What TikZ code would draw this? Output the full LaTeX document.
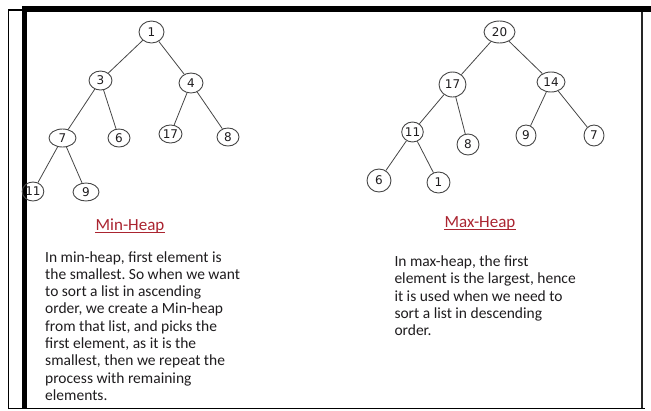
\documentclass[tikz,border=0pt]{standalone}
\usepackage{fontspec}
\setmainfont{Carlito}
\newfontfamily\numfont{DejaVu Sans}
\usetikzlibrary{shapes.geometric}
\frenchspacing
\definecolor{titlered}{RGB}{170,36,48}
\definecolor{bodyink}{RGB}{30,28,30}
\definecolor{edgegray}{RGB}{70,70,70}
\tikzset{
  heapnode/.style={ellipse, draw=edgegray, line width=0.9pt, inner sep=0pt,
    font=\numfont\fontsize{12}{12}\selectfont, text=bodyink},
  ell/.style 2 args={minimum width=#1pt, minimum height=#2pt},
  link/.style={draw=edgegray, line width=0.8pt},
  heading/.style={font=\fontsize{17}{20}\selectfont, text=titlered, inner sep=0pt, anchor=base},
  uline/.style={draw=titlered, line width=1pt},
  % anchored at the baseline of the last line
  para/.style={font=\fontsize{15.5}{17.3}\selectfont, text=bodyink, align=left, inner sep=0pt, anchor=base west}
}
\begin{document}
\begin{tikzpicture}[x=1pt, y=-1pt]
\useasboundingbox (0,0) rectangle (651,410);
% page frame
\draw[line width=1.2pt] (8.5,409) -- (8.5,10) -- (22,10);
\fill (21.5,6) rectangle (26.7,409);
\fill (21.5,6) rectangle (651,12);
\draw[line width=2pt, draw=black!85] (641.7,12) -- (641.7,409);
\draw[line width=1.2pt] (8.5,408.8) -- (645,408.8);

% min-heap
\node[heapnode, ell={25}{22}] (a1)  at (151.5,32)  {1};
\node[heapnode, ell={23}{19}] (a3)  at (100.5,80.5) {3};
\node[heapnode, ell={24}{20}] (a4)  at (191,83)    {4};
\node[heapnode, ell={27}{18}] (a7)  at (62.5,138)  {7};
\node[heapnode, ell={22}{18}] (a6)  at (119,138)   {6};
\node[heapnode, ell={23}{18}] (a17) at (170.5,134) {17};
\node[heapnode, ell={22}{18}] (a8)  at (228,137)   {8};
\node[heapnode, ell={20}{19}] (a11) at (33,191.5)  {11};
\node[heapnode, ell={26}{18}] (a9)  at (86,192)    {9};
\draw[link] (a1) -- (a3);
\draw[link] (a1) -- (a4);
\draw[link] (a3) -- (a7);
\draw[link] (a3) -- (a6);
\draw[link] (a4) -- (a17);
\draw[link] (a4) -- (a8);
\draw[link] (a7) -- (a11);
\draw[link] (a7) -- (a9);

% max-heap
\node[heapnode, ell={31}{22}] (b20) at (499.5,32)  {20};
\node[heapnode, ell={27}{25}] (b17) at (452.5,84.5) {17};
\node[heapnode, ell={28}{20}] (b14) at (551,82)    {14};
\node[heapnode, ell={21}{20}] (b11) at (412.5,132) {11};
\node[heapnode, ell={22}{21}] (b8)  at (468,144.5) {8};
\node[heapnode, ell={20}{21}] (b9)  at (526,135.5) {9};
\node[heapnode, ell={20}{21}] (b7)  at (594,135.5) {7};
\node[heapnode, ell={24}{23}] (b6)  at (379,180.5) {6};
\node[heapnode, ell={23}{21}] (b1)  at (438.5,182.5) {1};
\draw[link] (b20) -- (b17);
\draw[link] (b20) -- (b14);
\draw[link] (b17) -- (b11);
\draw[link] (b17) -- (b8);
\draw[link] (b14) -- (b9);
\draw[link] (b14) -- (b7);
\draw[link] (b11) -- (b6);
\draw[link] (b11) -- (b1);

% headings
\node[heading] (tmin) at (130,230.7) {Min-Heap};
\draw[uline] ([yshift=-1.8pt]tmin.base west) -- ([yshift=-1.8pt]tmin.base east);
\node[heading] (tmax) at (480,227.3) {Max-Heap};
\draw[uline] ([yshift=-1.8pt]tmax.base west) -- ([yshift=-1.8pt]tmax.base east);

% descriptions
\node[para] (pmin) at (45,400.4) {In min-heap, first element is\\
the smallest. So when we want\\
to sort a list in ascending\\
order, we create a Min-heap\\
from that list, and picks the\\
first element, as it is the\\
smallest, then we repeat the\\
process with remaining\\
elements.};
\node[para] (pmax) at (394.3,335.7) {In max-heap, the first\\
element is the largest, hence\\
it is used when we need to\\
sort a list in descending\\
order.};
\end{tikzpicture}
\end{document}
